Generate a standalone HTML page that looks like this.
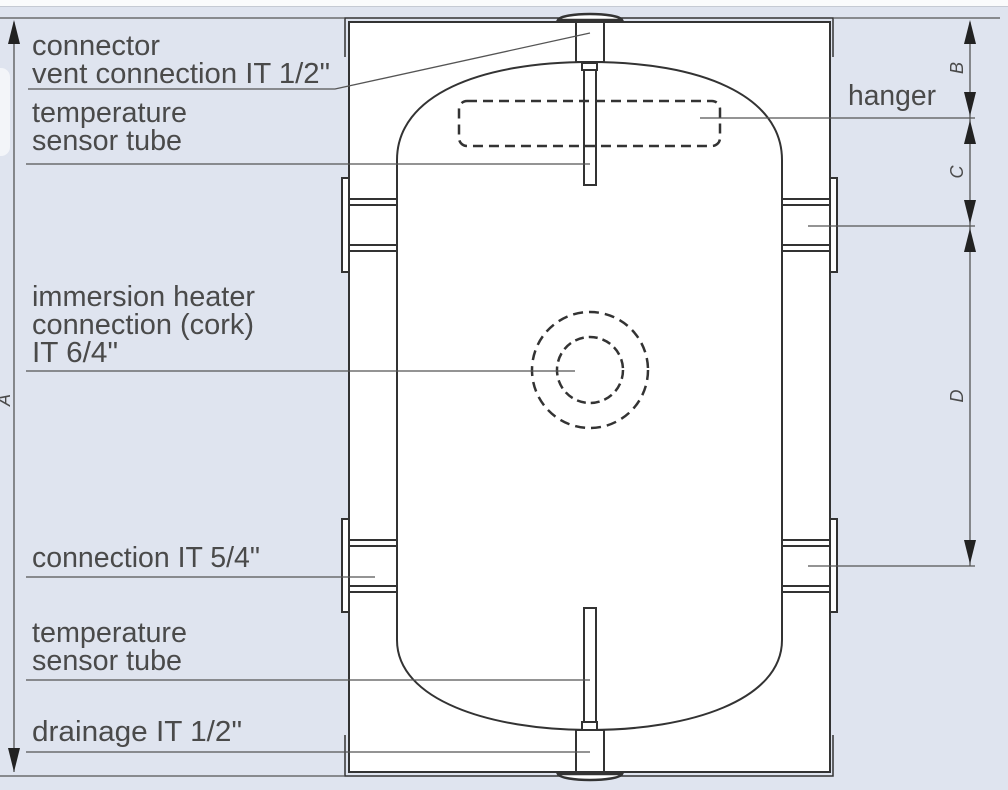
<!DOCTYPE html>
<html><head><meta charset="utf-8"><style>
html,body{margin:0;padding:0;background:#dfe4ef;}
svg{display:block}
text{font-family:"Liberation Sans",sans-serif;fill:#4a4a4a;font-size:29px}
</style></head><body>
<svg width="1008" height="790" viewBox="0 0 1008 790" xmlns="http://www.w3.org/2000/svg">
<rect x="0" y="0" width="1008" height="790" fill="#dfe4ef"/>
<rect x="0" y="0" width="1008" height="6" fill="#fafbfc"/>
<line x1="0" y1="6.5" x2="1008" y2="6.5" stroke="#c5cad3" stroke-width="1"/>
<rect x="-10" y="68" width="20" height="88" rx="9" fill="#f3f5f9"/>
<g stroke="#333" fill="none" stroke-width="2">
<rect x="349" y="22" width="481" height="750" fill="#fff"/>
<polyline points="345,57 345,18 833,18 833,57" stroke-width="1.5"/>
<polyline points="345,735 345,776 833,776 833,735" stroke-width="1.5"/>
<path d="M397,640 L397,160 C397,95 480,62 590,62 C700,62 782,95 782,160 L782,640 C782,700 690,730 590,730 C490,730 397,700 397,640 Z" fill="#fff"/>
<rect x="342" y="178" width="7" height="94" fill="#fff"/>
<rect x="342" y="519" width="7" height="93" fill="#fff"/>
<rect x="830" y="178" width="7" height="94" fill="#fff"/>
<rect x="830" y="519" width="7" height="93" fill="#fff"/>
<path d="M349,199H397M349,205H397M349,245H397M349,251H397"/>
<path d="M349,540H397M349,546H397M349,586H397M349,592H397"/>
<path d="M782,199H830M782,205H830M782,245H830M782,251H830"/>
<path d="M782,540H830M782,546H830M782,586H830M782,592H830"/>
<path d="M558,20 C562,12 618,12 622,20 Z" stroke-width="2.5" fill="#fff"/>
<rect x="576" y="22" width="28" height="40" fill="#fff"/>
<rect x="582" y="63" width="15" height="7" fill="#fff"/>
<rect x="584" y="70" width="12" height="115" fill="#fff"/>
<path d="M558,774 C562,782 618,782 622,774 Z" stroke-width="2.5" fill="#fff"/>
<rect x="576" y="730" width="28" height="42" fill="#fff"/>
<rect x="582" y="722" width="15" height="8" fill="#fff"/>
<rect x="584" y="608" width="12" height="114" fill="#fff"/>
<rect x="459" y="101" width="261" height="45" rx="8" stroke-dasharray="10,6" stroke-width="2.5"/>
<circle cx="590" cy="370" r="58" stroke-dasharray="10,6" stroke-width="2.5"/>
<circle cx="590" cy="370" r="33" stroke-dasharray="9,5" stroke-width="2.5"/>
</g>
<g stroke="#555" stroke-width="1.3" fill="none">
<polyline points="28,89 335,89 590,33"/>
<line x1="26" y1="164" x2="590" y2="164"/>
<line x1="26" y1="371" x2="575" y2="371"/>
<line x1="26" y1="577" x2="375" y2="577"/>
<line x1="26" y1="680" x2="590" y2="680"/>
<line x1="26" y1="752" x2="590" y2="752"/>
<line x1="0" y1="776" x2="345" y2="776"/>
<line x1="833" y1="18" x2="1000" y2="18"/>
<line x1="0" y1="18" x2="345" y2="18"/>
<line x1="700" y1="118" x2="975" y2="118"/>
<line x1="808" y1="226" x2="975" y2="226"/>
<line x1="808" y1="566" x2="975" y2="566"/>
<line x1="14" y1="22" x2="14" y2="772"/>
<line x1="970" y1="22" x2="970" y2="566"/>
</g>
<g fill="#222">
<polygon points="14,20 8,44 20,44"/>
<polygon points="14,772 8,748 20,748"/>
<polygon points="970,20 964,44 976,44"/>
<polygon points="970,116 964,92 976,92"/>
<polygon points="970,120 964,144 976,144"/>
<polygon points="970,224 964,200 976,200"/>
<polygon points="970,228 964,252 976,252"/>
<polygon points="970,564 964,540 976,540"/>
</g>
<g>
<text x="32" y="55" textLength="128" lengthAdjust="spacingAndGlyphs">connector</text>
<text x="32" y="83" textLength="298" lengthAdjust="spacingAndGlyphs">vent connection IT 1/2"</text>
<text x="32" y="122" textLength="155" lengthAdjust="spacingAndGlyphs">temperature</text>
<text x="32" y="150" textLength="150" lengthAdjust="spacingAndGlyphs">sensor tube</text>
<text x="32" y="306" textLength="223" lengthAdjust="spacingAndGlyphs">immersion heater</text>
<text x="32" y="334" textLength="222" lengthAdjust="spacingAndGlyphs">connection (cork)</text>
<text x="32" y="362" textLength="86" lengthAdjust="spacingAndGlyphs">IT 6/4"</text>
<text x="32" y="567" textLength="228" lengthAdjust="spacingAndGlyphs">connection IT 5/4"</text>
<text x="32" y="642" textLength="155" lengthAdjust="spacingAndGlyphs">temperature</text>
<text x="32" y="670" textLength="150" lengthAdjust="spacingAndGlyphs">sensor tube</text>
<text x="32" y="741" textLength="210" lengthAdjust="spacingAndGlyphs">drainage  IT 1/2"</text>
<text x="848" y="105" textLength="88" lengthAdjust="spacingAndGlyphs">hanger</text>
</g>
<g font-style="italic">
<text transform="translate(963,68) rotate(-90)" text-anchor="middle" style="font-size:18px">B</text>
<text transform="translate(963,172) rotate(-90)" text-anchor="middle" style="font-size:18px">C</text>
<text transform="translate(963,396) rotate(-90)" text-anchor="middle" style="font-size:18px">D</text>
<text transform="translate(10,400) rotate(-90)" text-anchor="middle" style="font-size:18px">A</text>
</g>
</svg>
</body></html>
